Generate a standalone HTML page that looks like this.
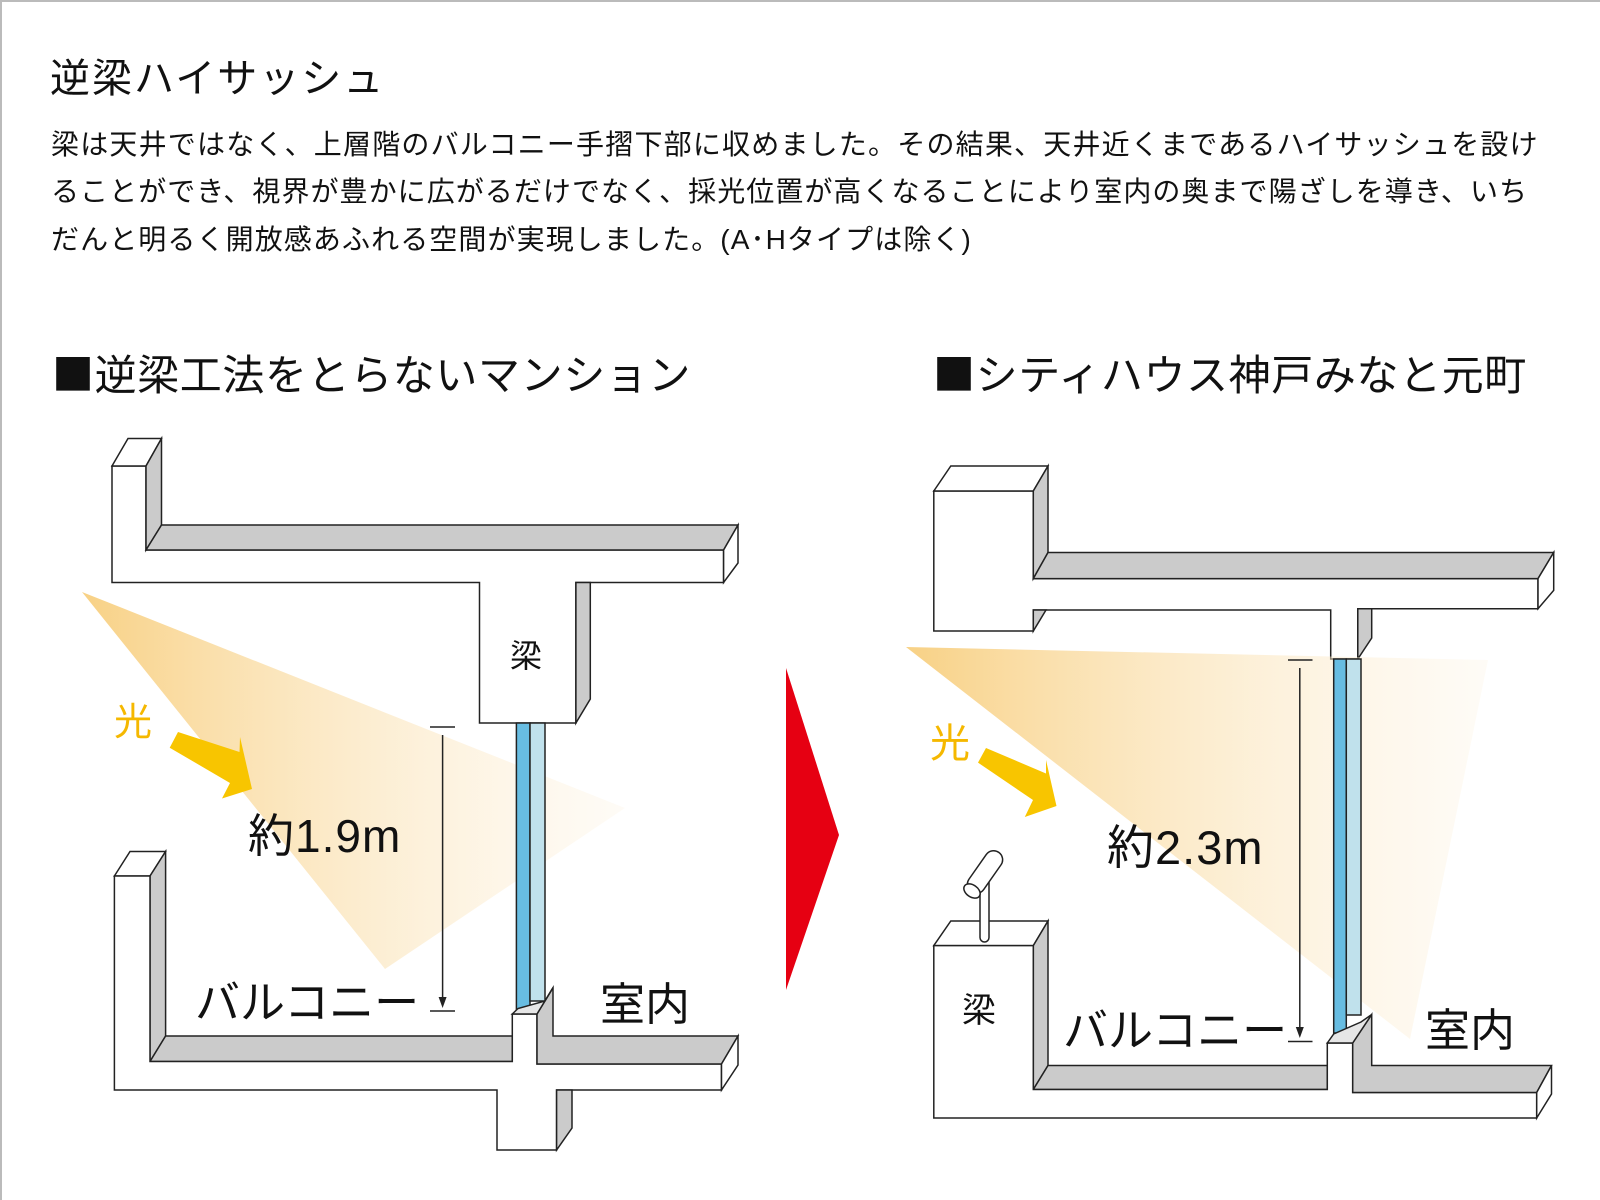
<!DOCTYPE html>
<html><head><meta charset="utf-8"><style>
html,body{margin:0;padding:0;background:#fff}
body{width:1600px;height:1200px;overflow:hidden;position:relative;font-family:"Liberation Sans","Noto Sans CJK JP",sans-serif;color:#111}
.frame{position:absolute;left:0;top:0;width:1600px;height:1200px;border-left:2px solid #bbb;border-top:2px solid #bbb;box-sizing:border-box}
.t{position:absolute;white-space:nowrap;line-height:1}
.h{font-family:"Noto Sans CJK JP",sans-serif;font-size:42px;letter-spacing:0.6px}
</style></head><body>
<div class="frame"></div>
<div class="t" style="left:50px;top:59px;font-size:40px;letter-spacing:2px;">逆梁ハイサッシュ</div>
<div class="t" style="left:51px;top:131px;font-size:28px;letter-spacing:1.2px;">梁は天井ではなく、上層階のバルコニー手摺下部に収めました。その結果、天井近くまであるハイサッシュを設け</div>
<div class="t" style="left:51px;top:178px;font-size:28px;letter-spacing:1.05px;">ることができ、視界が豊かに広がるだけでなく、採光位置が高くなることにより室内の奥まで陽ざしを導き、いち</div>
<div class="t" style="left:51px;top:226px;font-size:28px;letter-spacing:1.1px;">だんと明るく開放感あふれる空間が実現しました。(A･Hタイプは除く)</div>
<div class="t h" style="left:52px;top:352px;">■逆梁工法をとらないマンション</div>
<div class="t h" style="left:933px;top:352px;">■シティハウス神戸みなと元町</div>
<svg width="1600" height="1200" style="position:absolute;left:0;top:0" xmlns="http://www.w3.org/2000/svg">
<defs>
<linearGradient id="gl" x1="82" y1="0" x2="625" y2="0" gradientUnits="userSpaceOnUse">
<stop offset="0" stop-color="#f8d185"/><stop offset="1" stop-color="#fdf3e2" stop-opacity="0.3"/></linearGradient>
<linearGradient id="gr" x1="906" y1="0" x2="1488" y2="0" gradientUnits="userSpaceOnUse">
<stop offset="0" stop-color="#f8d185"/><stop offset="1" stop-color="#fdf3e2" stop-opacity="0.3"/></linearGradient>
</defs>
<g stroke="#222" stroke-width="1.5" stroke-linejoin="miter">
<polygon fill="#fff" points="112,466 146,466 146,550 723.6,550 723.6,582.5 575.9,582.5 575.9,723 479.5,723 479.5,582.5 112,582.5"/>
<polygon fill="#fff" points="112,466 128,438.5 161.5,438.5 146,466"/>
<polygon fill="#cbcbcb" points="146,466 161.5,438.5 161.5,525 146,550"/>
<polygon fill="#cbcbcb" points="146,550 161.5,525 738,525 723.6,550"/>
<polygon fill="#fff" points="723.6,550 738,525 738,563 723.6,582.5"/>
<polygon fill="#cbcbcb" points="575.9,582.5 590.3,582.5 590.3,699 575.9,723"/>
</g>
<polygon fill="url(#gl)" points="82,592 625,808 385,969"/>
<g stroke="#222" stroke-width="1.5">
<rect x="516.4" y="723" width="13.6" height="288" fill="#68bde2"/>
<rect x="530" y="723" width="15" height="278" fill="#c0e1ec"/>
<polygon fill="#fff" points="114.4,876 130,851.5 165.6,851.5 150,876"/>
<polygon fill="#cbcbcb" points="150,876 165.6,851.5 165.6,1036 150,1061.5"/>
<polygon fill="#cbcbcb" points="150,1061.5 165.6,1036 512.3,1036 512.3,1061.5"/>
<polygon fill="#fff" points="114.4,876 150,876 150,1061.5 512.3,1061.5 512.3,1014 537,1014 537,1064 721.5,1064 721.5,1090 556.6,1090 556.6,1150 497,1150 497,1090 114.4,1090"/>
<polygon fill="#cbcbcb" points="537,1014 553,987.7 553,1036 738,1036 721.5,1064 537,1064"/>
<polygon fill="#fff" points="721.5,1064 738,1036 738,1065 721.5,1090"/>
<polygon fill="#e6e6e6" points="512.3,1014 518,1008.5 545,1001 553,987.7 537,1014"/>
<polygon fill="#cbcbcb" points="556.6,1090 572,1090 572,1128 556.6,1150"/>
</g>
<g stroke="#222" stroke-width="1.5">
<line x1="430" y1="727" x2="455" y2="727"/><line x1="430" y1="1011" x2="455" y2="1011"/>
<line x1="442.6" y1="735" x2="442.6" y2="1005"/>
</g>
<polygon points="438.6,997 446.6,997 442.6,1008" fill="#222"/>
<polygon fill="#f8c500" points="169.7,747.7 178,732 239.5,752 240,737 252,789 222,798.5 230,783 169.7,747.7"/>
<text x="114" y="735" font-size="38" fill="#f5b800" font-family="Noto Sans CJK JP,sans-serif">光</text>
<text x="248" y="852" font-size="46" letter-spacing="1" fill="#111" font-family="Liberation Sans,Noto Sans CJK JP,sans-serif">約1.9m</text>
<text x="510" y="667" font-size="32" fill="#111" font-family="Noto Sans CJK JP,sans-serif">梁</text>
<text x="195" y="1018" font-size="45" fill="#111" font-family="Noto Sans CJK JP,sans-serif">バルコニー</text>
<text x="600" y="1020" font-size="45" fill="#111" font-family="Noto Sans CJK JP,sans-serif">室内</text>
<polygon fill="#e60012" points="786,668 839,835 786,990"/>
<g stroke="#222" stroke-width="1.5">
<polygon fill="#fff" points="933.8,491 1033.3,491 1033.3,578.6 1538,578.6 1538,608.7 1357.8,608.7 1357.8,659 1330.7,659 1330.7,610 1033.3,610 1033.3,631 933.8,631"/>
<polygon fill="#fff" points="933.8,491 950.8,466 1048,466 1033.3,491"/>
<polygon fill="#cbcbcb" points="1033.3,491 1048,466 1048,552.5 1033.3,578.6"/>
<polygon fill="#cbcbcb" points="1033.3,578.6 1048,552.5 1553.7,552.5 1538,578.6"/>
<polygon fill="#fff" points="1538,578.6 1553.7,552.5 1553.7,590.4 1538,608.7"/>
<polygon fill="#cbcbcb" points="1357.8,608.7 1371.7,608.7 1371.7,638 1357.8,659"/>
<polygon fill="#cbcbcb" points="1033.3,610 1046,610 1033.3,631"/>
</g>
<polygon fill="url(#gr)" points="906,647 1488,660 1410,1039"/>
<g stroke="#222" stroke-width="1.5">
<rect x="1333.7" y="659" width="12.6" height="374" fill="#68bde2"/>
<rect x="1346.3" y="659" width="14.7" height="356" fill="#c0e1ec"/>
<polygon fill="#fff" points="933.8,945.6 950.8,921 1048,921 1033.3,945.6"/>
<polygon fill="#cbcbcb" points="1033.3,945.6 1048,921 1048,1065.5 1033.3,1089.5"/>
<polygon fill="#cbcbcb" points="1033.3,1089.5 1048,1065.5 1327.3,1065.5 1327.3,1089.5"/>
<polygon fill="#fff" points="933.8,945.6 1033.3,945.6 1033.3,1089.5 1327.3,1089.5 1327.3,1043 1352.7,1043 1352.7,1092.5 1536.7,1092.5 1536.7,1118 933.8,1118"/>
<polygon fill="#cbcbcb" points="1352.7,1043 1371.7,1014.5 1371.7,1065.5 1551.5,1065.5 1536.7,1092.5 1352.7,1092.5"/>
<polygon fill="#fff" points="1536.7,1092.5 1551.5,1065.5 1551.5,1094 1536.7,1118"/>
<polygon fill="#e6e6e6" points="1327.3,1043 1333.7,1034 1361,1022 1371.7,1014.5 1352.7,1043"/>
<rect x="980" y="878" width="9" height="64" rx="4.5" fill="#fff"/>
<rect x="-9" y="-24" width="18" height="48" rx="9" fill="#fff" transform="translate(985,872) rotate(35)"/>
<ellipse cx="0" cy="0" rx="9" ry="6" fill="#fff" transform="translate(972,891) rotate(35)"/>
</g>
<g stroke="#222" stroke-width="1.5">
<line x1="1288" y1="660" x2="1312.5" y2="660"/><line x1="1288" y1="1041.5" x2="1312.5" y2="1041.5"/>
<line x1="1299.8" y1="668" x2="1299.8" y2="1035"/>
</g>
<polygon points="1295.8,1027 1303.8,1027 1299.8,1038" fill="#222"/>
<polygon fill="#f8c500" points="978,762.6 986,748 1046,773.5 1046,760 1056.5,806 1024.8,817 1033,800 978,762.6"/>
<text x="930" y="757" font-size="40" fill="#f5b800" font-family="Noto Sans CJK JP,sans-serif">光</text>
<text x="1107" y="864" font-size="47" letter-spacing="1" fill="#111" font-family="Liberation Sans,Noto Sans CJK JP,sans-serif">約2.3m</text>
<text x="962" y="1022" font-size="34" fill="#111" font-family="Noto Sans CJK JP,sans-serif">梁</text>
<text x="1063" y="1046" font-size="45" fill="#111" font-family="Noto Sans CJK JP,sans-serif">バルコニー</text>
<text x="1425" y="1046" font-size="45" fill="#111" font-family="Noto Sans CJK JP,sans-serif">室内</text>
</svg>
</body></html>
